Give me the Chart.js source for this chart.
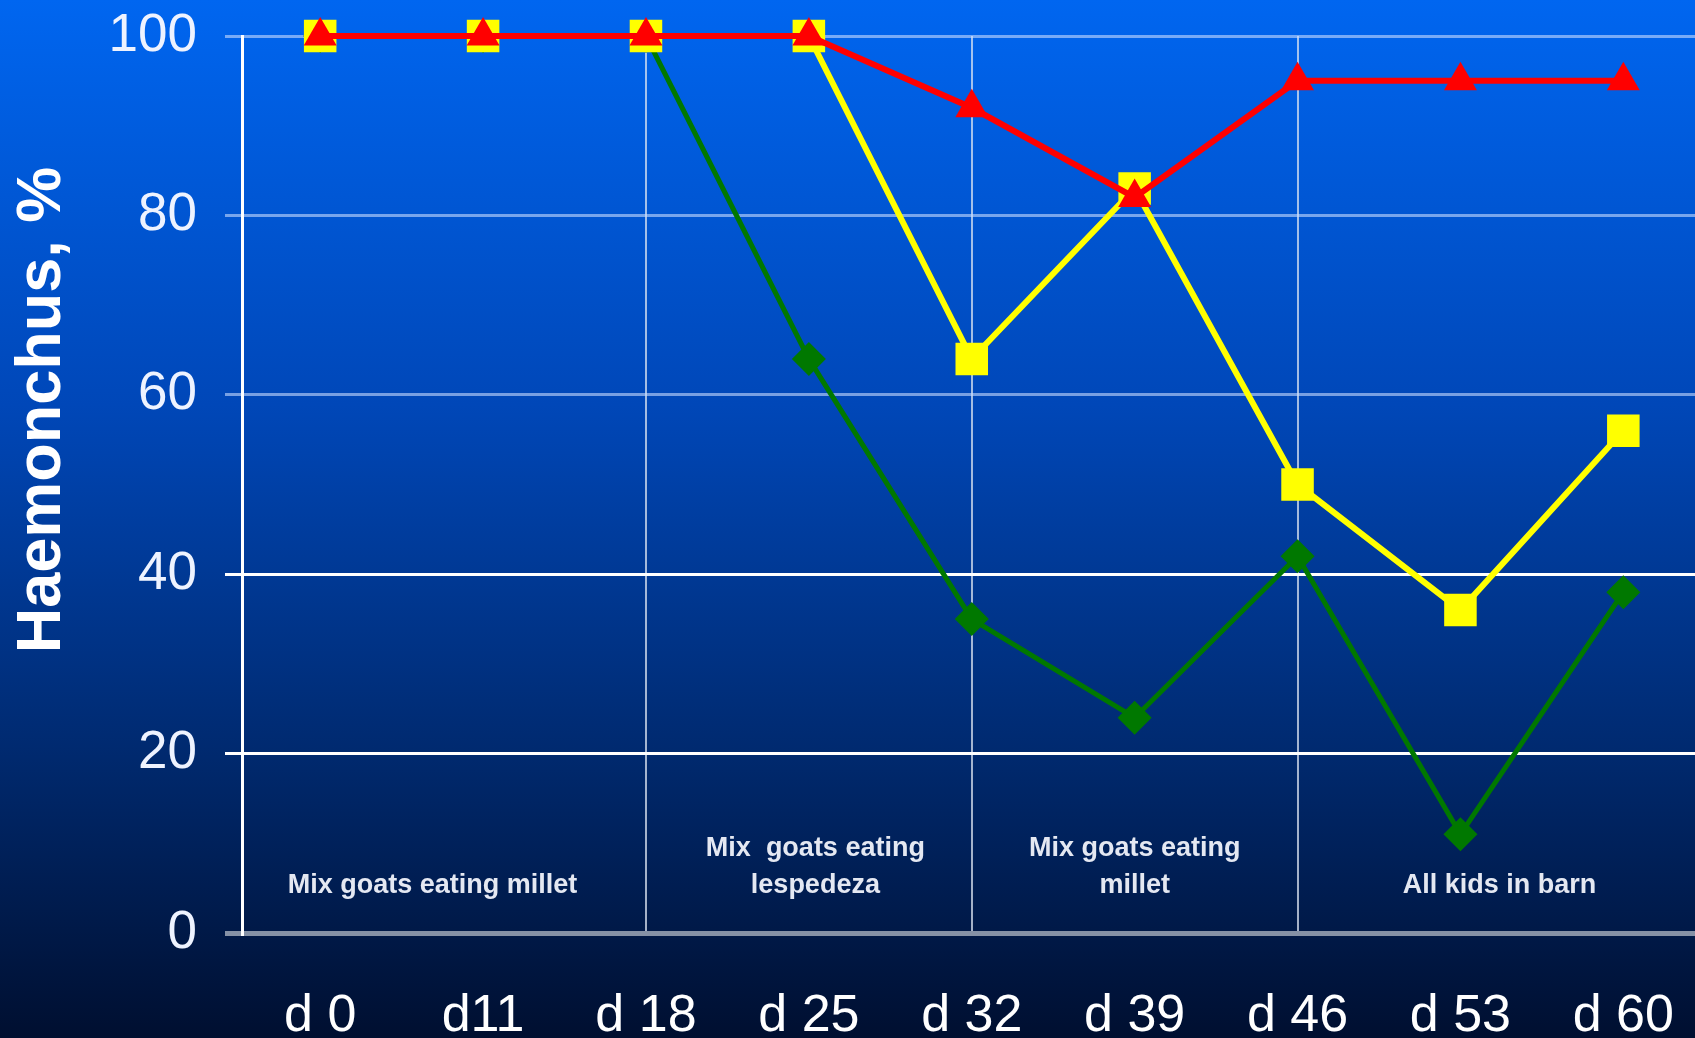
<!DOCTYPE html>
<html>
<head>
<meta charset="utf-8">
<script src="https://cdn.jsdelivr.net/npm/chart.js@4"></script>
<style>
  html, body { margin: 0; padding: 0; background: #001030; overflow: hidden; }
  #wrap { width: 1695px; height: 1038px; position: relative; }
</style>
</head>
<body>
<div id="wrap"><canvas id="myChart"></canvas></div>
<script>
// data
var days = ['d 0', 'd11', 'd 18', 'd 25', 'd 32', 'd 39', 'd 46', 'd 53', 'd 60'];
var redSeries = [100, 100, 100, 100, 92, 82, 95, 95, 95];
var yellowSeries = [100, 100, 100, 100, 64, 83, 50, 36, 56];
var greenSeries = [100, 100, 100, 64, 35, 24, 42, 11, 38];
var yTicks = [0, 20, 40, 60, 80, 100];
var dividers = [2, 4, 6]; // vertical lines at d 18, d 32, d 46

// period notes under the lines (x in day index)
var notes = [
  { x: 0.69, lines: ['Mix goats eating millet'] },
  { x: 3.04, lines: ['Mix  goats eating', 'lespedeza'] },
  { x: 5.0, lines: ['Mix goats eating', 'millet'] },
  { x: 7.24, lines: ['All kids in barn'] }
];

function toPoints(arr) {
  return arr.map(function(v, i) { return { x: i, y: v }; });
}

// drop the label overflow padding so the plot fills the page like the slide
function noPad(s) {
  s.paddingLeft = 0;
  s.paddingRight = 0;
  s.paddingTop = 0;
  s.paddingBottom = 0;
}

var bgPlugin = {
  id: 'bg',
  beforeDraw: function(chart) {
    var c = chart.ctx;
    var g = c.createLinearGradient(0, 0, 0, chart.height);
    g.addColorStop(0, '#0066f0');
    g.addColorStop(0.39, '#0047b8');
    g.addColorStop(0.72, '#002a70');
    g.addColorStop(1, '#000f30');
    c.save();
    c.fillStyle = g;
    c.fillRect(0, 0, chart.width, chart.height);
    c.restore();
  }
};

var textPlugin = {
  id: 'texts',
  afterDatasetsDraw: function(chart) {
    var c = chart.ctx;
    var xs = chart.scales.x, ys = chart.scales.y;
    c.save();
    // notes
    c.fillStyle = '#e4e8f2';
    c.font = 'bold 27px "Liberation Sans", Arial, sans-serif';
    c.textAlign = 'center';
    c.textBaseline = 'middle';
    notes.forEach(function(n) {
      var px = xs.getPixelForValue(n.x);
      var base = ys.getPixelForValue(0) - 47;
      for (var i = 0; i < n.lines.length; i++) {
        var py = base - (n.lines.length - 1 - i) * 37;
        c.fillText(n.lines[i], px, py);
      }
    });
    // y-axis title
    c.translate(43, 410);
    c.rotate(-Math.PI / 2);
    c.fillStyle = '#ffffff';
    c.font = 'bold 63px "Liberation Sans", Arial, sans-serif';
    c.fillText('Haemonchus, %', 0, 0);
    c.restore();
  }
};

var ctx = document.getElementById('myChart').getContext('2d');
var myChart = new Chart(ctx, {
  type: 'line',
  data: {
    datasets: [
      {
        label: 'red',
        data: toPoints(redSeries),
        borderColor: '#ff0000',
        backgroundColor: '#ff0000',
        borderWidth: 6,
        pointStyle: 'triangle',
        pointRadius: 19,
        pointBorderWidth: 0,
        clip: false
      },
      {
        label: 'yellow',
        data: toPoints(yellowSeries),
        borderColor: '#ffff00',
        backgroundColor: '#ffff00',
        borderWidth: 6,
        pointStyle: 'rect',
        pointRadius: 23,
        pointBorderWidth: 0,
        clip: false
      },
      {
        label: 'green',
        data: toPoints(greenSeries),
        borderColor: '#007800',
        backgroundColor: '#007800',
        borderWidth: 5,
        pointStyle: 'rectRot',
        pointRadius: 17,
        pointBorderWidth: 0,
        clip: false
      }
    ]
  },
  options: {
    responsive: true,
    maintainAspectRatio: false,
    animation: false,
    layout: { autoPadding: false, padding: { top: 36, right: 0, left: 0, bottom: 0 } },
    plugins: {
      legend: { display: false },
      tooltip: { enabled: false }
    },
    scales: {
      x: {
        type: 'linear',
        min: -0.48,
        max: 8.44,
        afterBuildTicks: function(s) {
          s.ticks = days.map(function(d, i) { return { value: i }; });
        },
        afterFit: function(s) { s.height = 105; noPad(s); },
        border: { display: false },
        grid: {
          drawTicks: false,
          lineWidth: 2,
          color: function(c) {
            return c.tick && dividers.indexOf(c.tick.value) >= 0 ? 'rgba(220,228,240,0.75)' : 'rgba(0,0,0,0)';
          }
        },
        ticks: {
          color: '#ffffff',
          font: { family: '"Liberation Sans", Arial, sans-serif', size: 52 },
          padding: 52,
          maxRotation: 0,
          autoSkip: false,
          callback: function(v) { return days[v]; }
        }
      },
      y: {
        min: 0,
        max: 100,
        afterBuildTicks: function(s) {
          s.ticks = yTicks.map(function(v) { return { value: v }; });
        },
        afterFit: function(s) { s.width = 242; noPad(s); },
        border: { display: true, color: '#ffffff', width: 3 },
        grid: {
          tickLength: 17,
          lineWidth: function(c) { return c.tick && c.tick.value === 0 ? 5 : 3; },
          color: function(c) {
            var v = c.tick ? c.tick.value : 0;
            if (v === 0) return '#8591a6';
            if (v <= 40) return '#ffffff';
            return 'rgba(200,220,255,0.6)';
          }
        },
        ticks: {
          color: '#eef3ff',
          font: { family: '"Liberation Sans", Arial, sans-serif', size: 53 },
          padding: 28
        }
      }
    }
  },
  plugins: [bgPlugin, textPlugin]
});
</script>
</body>
</html>
